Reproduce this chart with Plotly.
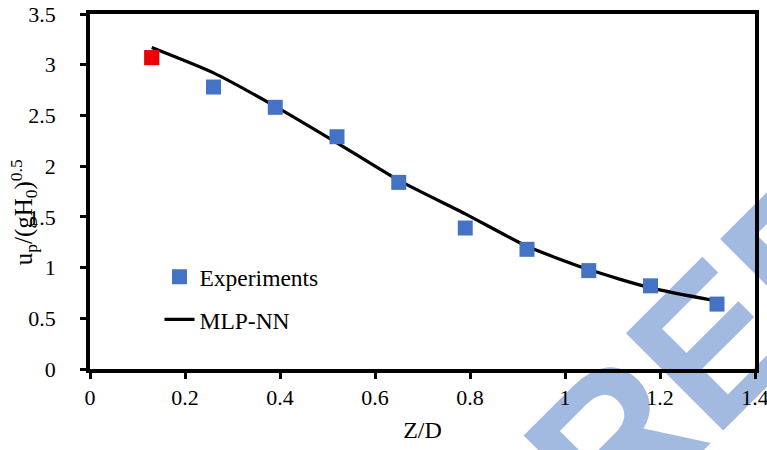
import plotly.graph_objects as go

# Data
zd = [0.13, 0.26, 0.39, 0.52, 0.65, 0.79, 0.92, 1.05, 1.18, 1.32]
exp_vals = [3.07, 2.78, 2.58, 2.29, 1.84, 1.39, 1.18, 0.97, 0.82, 0.64]
mlp_vals = [3.17, 2.92, 2.59, 2.23, 1.86, 1.53, 1.21, 0.98, 0.80, 0.67]
x_ticks = [0, 0.2, 0.4, 0.6, 0.8, 1, 1.2, 1.4]
y_ticks = [0, 0.5, 1, 1.5, 2, 2.5, 3, 3.5]
watermark = "PREPRINT"

serif = "Liberation Serif"
blue = "#4472C4"

fig = go.Figure()
fig.add_trace(go.Scatter(
    x=zd, y=mlp_vals, mode="lines", name="MLP-NN",
    line=dict(color="black", width=3.2, shape="spline", smoothing=0.6),
    legendgroup="b", legendrank=2,
))
fig.add_trace(go.Scatter(
    x=zd, y=exp_vals, mode="markers", name="Experiments",
    marker=dict(symbol="square", size=15, color=blue),
    legendgroup="a", legendrank=1,
))
fig.add_trace(go.Scatter(
    x=zd[:1], y=exp_vals[:1], mode="markers", showlegend=False,
    marker=dict(symbol="square", size=15, color="#EE0000"),
))

axis_common = dict(
    showline=True, linecolor="black", linewidth=3.5, mirror=True,
    ticks="outside", ticklen=6, tickwidth=3, tickcolor="black",
    showgrid=False, zeroline=False, automargin=False,
    ticklabeloverflow="allow",
    tickfont=dict(family=serif, size=22, color="black"),
)

fig.update_layout(
    width=767, height=450,
    margin=dict(l=90, r=12, t=14, b=81),
    paper_bgcolor="white", plot_bgcolor="rgba(0,0,0,0)",
    font=dict(family=serif, color="black"),
    xaxis=dict(range=[0, 1.4], tickvals=x_ticks, ticktext=[f"{v:g}" for v in x_ticks],
               title=dict(text="Z/D", font=dict(family=serif, size=24), standoff=13),
               **axis_common),
    yaxis=dict(range=[0, 3.5], tickvals=y_ticks, ticktext=[f"{v:g}" for v in y_ticks],
               ticklabelstandoff=20,
               **axis_common),
    legend=dict(
        x=0.1045, y=0.321, xanchor="left", yanchor="top",
        bgcolor="rgba(0,0,0,0)", borderwidth=0,
        font=dict(family=serif, size=23.5, color="black"),
        traceorder="grouped", tracegroupgap=9,
    ),
    showlegend=True,
)

# Y-axis title
fig.add_annotation(
    text="u<sub>p</sub>/(gH<sub>0</sub>)<sup>0.5</sup>",
    xref="paper", yref="paper", x=-0.1, y=0.44,
    xanchor="center", yanchor="middle", textangle=-90, showarrow=False,
    font=dict(family=serif, size=25, color="black"),
)

# Watermark drawn as a label of an invisible shape placed below the plot content
fig.add_shape(
    type="rect", xref="paper", yref="paper",
    x0=1.076, x1=1.096, y0=0.42, y1=0.44,
    line=dict(width=0), fillcolor="rgba(0,0,0,0)", layer="below",
    label=dict(text=watermark, textangle=-45, textposition="middle center",
               font=dict(family="Liberation Sans", size=200, color="#A2B9E0", weight="bold")),
)

fig.write_html("out.html", config={"displayModeBar": False},
               post_script="document.body.style.margin='0';")
